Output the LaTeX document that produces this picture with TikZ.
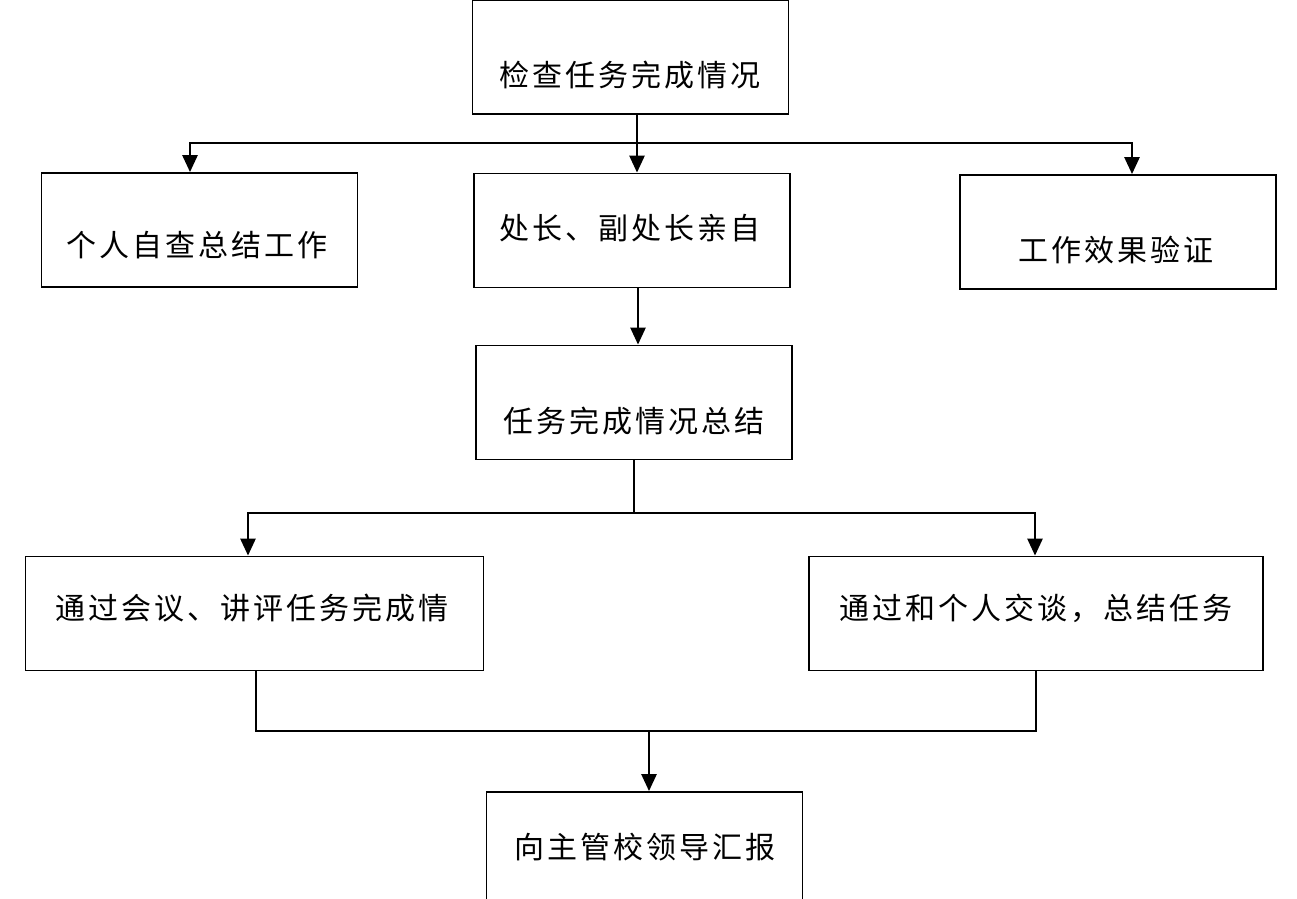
\documentclass[tikz,border=0pt]{standalone}
\usepackage{fontspec}
\newfontfamily\cjk[LetterSpace=10]{Noto Sans CJK SC}
\usepackage{tikz}
\usetikzlibrary{arrows.meta}

\begin{document}
\begin{tikzpicture}[
  x=1pt, y=-1pt,
  box/.style={draw=black, line width=1.8pt, minimum width=316pt, minimum height=114pt,
              inner sep=0pt},
  wbox/.style={box, minimum width=458pt},
  txt/.style={font=\cjk\fontsize{30pt}{30pt}\selectfont, inner sep=0pt},
  ln/.style={draw=black, line width=2.6pt},
  fl/.style={ln, -{Triangle[length=17pt,width=15pt]}},
]
\clip (0,0) rectangle (1297,898);
\useasboundingbox (0,0) rectangle (1297,898);

% ============ boxes =========================================================
\node[box]  (check)  at (630.5,57)    {};
\node[txt]  at (630,75)   {检查任务完成情况};

\node[box]  (self)   at (199.5,230)   {};
\node[txt]  at (197,245)  {个人自查总结工作};

\node[box]  (chief)  at (632,230.5)   {};
\node[txt]  at (630,228)  {处长、副处长亲自};

\node[box]  (verify) at (1118,232)    {};
\node[txt]  at (1116,250) {工作效果验证};

\node[box]  (summ)   at (634,402.5)   {};
\node[txt]  at (634,421)  {任务完成情况总结};

\node[wbox] (meet)   at (254.5,613.5) {};
\node[txt]  at (252,608)  {通过会议、讲评任务完成情};

\node[wbox, minimum width=454pt] (talk) at (1036,613.5) {};
\node[txt]  at (1036,608) {通过和个人交谈，总结任务};

\node[box]  (report) at (644.5,849)   {};
\node[txt]  at (645,847)  {向主管校领导汇报};

% ============ buses =========================================================
\coordinate (busA) at (637,143);
\coordinate (busB) at (634,513);
\coordinate (busC) at (649,731);

% ============ flows =========================================================
\draw[fl] ([xshift=6.5pt]check.south) -- ([xshift=5pt]chief.north);
\draw[fl] (busA) -| ([xshift=-9.5pt]self.north);
\draw[fl] (busA) -| ([xshift=14pt]verify.north);

\draw[fl] ([xshift=6pt]chief.south) -- ([xshift=4pt]summ.north);

\draw[ln] (summ.south) -- (busB);
\draw[fl] (busB) -| ([xshift=-6.5pt]meet.north);
\draw[fl] (busB) -| ([xshift=-1pt]talk.north);

\draw[ln] ([xshift=1.5pt]meet.south) |- (busC);
\draw[ln] (talk.south) |- (busC);
\draw[fl] (busC) -- ([xshift=4.5pt]report.north);

\end{tikzpicture}
\end{document}
